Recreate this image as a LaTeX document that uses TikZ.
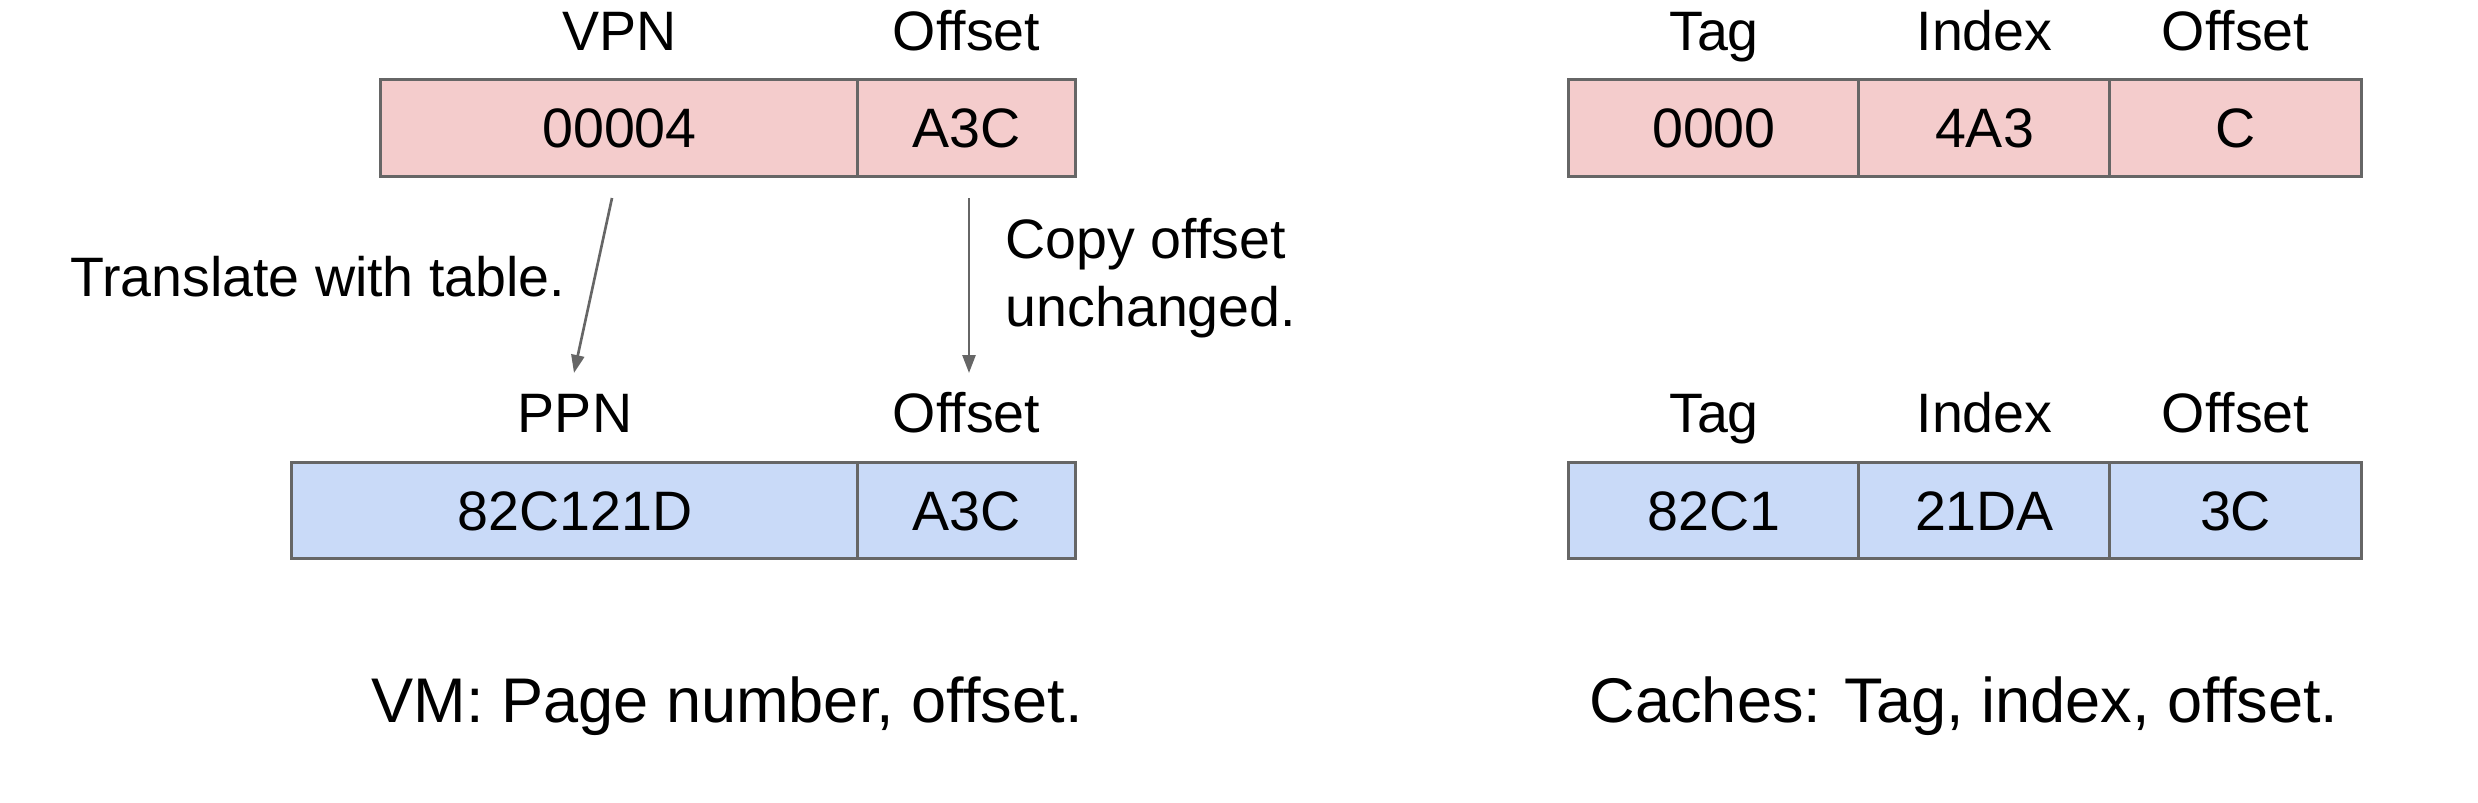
\documentclass[tikz,border=0pt]{standalone}
\usepackage{fontspec}
\setmainfont{Liberation Sans}
\usetikzlibrary{arrows.meta}
\definecolor{pinkfill}{HTML}{F4CCCC}
\definecolor{bluefill}{HTML}{C9DAF8}
\definecolor{edgegray}{HTML}{666666}
\definecolor{arrowgray}{HTML}{666666}
\tikzset{
  txt/.style={font=\fontsize{15.8pt}{19.06pt}\selectfont, inner sep=0pt, text=black},
  captxt/.style={font=\fontsize{17.95pt}{21pt}\selectfont, inner sep=0pt, text=black},
  cell/.style={txt, draw=edgegray, line width=0.85pt, minimum height=0.96cm,
    text height=0.39cm, text depth=0pt, anchor=center},
  pcell/.style={cell, fill=pinkfill},
  bcell/.style={cell, fill=bluefill},
  arr/.style={draw=arrowgray, line width=0.75pt, -{Triangle[length=0.18cm, width=0.13cm]}}
}
\begin{document}
\begin{tikzpicture}[x=0.01cm, y=-0.01cm]
\useasboundingbox (0,0) rectangle (2478,802);
% ---- VM side ----
\node[pcell, minimum width=4.77cm] (vpn) at (619.5,128) {00004};
\node[pcell, minimum width=2.17cm] (voff) at (966.5,128) {A3C};
\node[bcell, minimum width=5.66cm] (ppn) at (575,510.7) {82C121D};
\node[bcell, minimum width=2.17cm] (poff) at (966.5,510.7) {A3C};
\node[txt, anchor=base] (lvpn) at (619.5,50) {VPN};
\node[txt, anchor=base] (lvoff) at (966.5,50) {Offset};
\node[txt, anchor=base] (lppn) at (575,432) {PPN};
\node[txt, anchor=base] (lpoff) at (966.5,432) {Offset};
\coordinate (a1s) at (612,198);
\coordinate (a1e) at (574,373);
\coordinate (a2s) at (969,198);
\coordinate (a2e) at (969,373);
\draw[arr] (a1s) -- (a1e);
\draw[arr] (a2s) -- (a2e);
\node[txt, anchor=base east] (trans) at (566,296) {Translate with table.};
\node[txt, anchor=base west, align=left] (copy) at (1005,326) {Copy offset\\unchanged.};
\node[captxt, anchor=base] (vmcap) at (727,722) {VM: Page number, offset.};
% ---- Cache side ----
\node[pcell, minimum width=2.90cm] (ctag) at (1714,128) {0000};
\node[pcell, minimum width=2.51cm] (cidx) at (1984.5,128) {4A3};
\node[pcell, minimum width=2.51cm] (coff) at (2235.5,128) {C};
\node[bcell, minimum width=2.90cm] (dtag) at (1714,510.7) {82C1};
\node[bcell, minimum width=2.51cm] (didx) at (1984.5,510.7) {21DA};
\node[bcell, minimum width=2.51cm] (doff) at (2235.5,510.7) {3C};
\node[txt, anchor=base] (lctag) at (1714,50) {Tag};
\node[txt, anchor=base] (lcidx) at (1984.5,50) {Index};
\node[txt, anchor=base] (lcoff) at (2235.5,50) {Offset};
\node[txt, anchor=base] (ldtag) at (1714,432) {Tag};
\node[txt, anchor=base] (ldidx) at (1984.5,432) {Index};
\node[txt, anchor=base] (ldoff) at (2235.5,432) {Offset};
\node[captxt, anchor=base] (cachecap) at (1964,722) {Caches: Tag, index, offset.};
\end{tikzpicture}
\end{document}
